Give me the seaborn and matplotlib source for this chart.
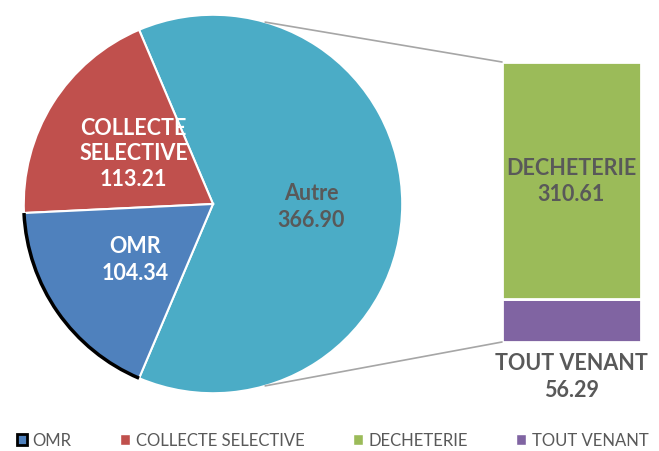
import numpy as np
import matplotlib
matplotlib.use("Agg")
import matplotlib.pyplot as plt
from matplotlib.patches import Arc, ConnectionPatch, Patch
import seaborn as sns

# données
pie_labels = ["Autre", "COLLECTE SELECTIVE", "OMR"]
pie_values = [366.90, 113.21, 104.34]
bar_labels = ["TOUT VENANT", "DECHETERIE"]
bar_values = [56.29, 310.61]

legend_labels = ["OMR", "COLLECTE SELECTIVE", "DECHETERIE", "TOUT VENANT"]

c_omr = "#4F81BD"
c_coll = "#C0504D"
c_autre = "#4BACC6"
c_dech = "#9BBB59"
c_tv = "#8064A2"
grey = "#595959"

sns.set_style("white")
plt.rcParams["font.family"] = ["Lato", "DejaVu Sans"]

fig = plt.figure(figsize=(6.59, 4.52), dpi=100)

# 1. camembert
R = 1.02
ax_pie = fig.add_axes([20 / 659, 54 / 452, 386 / 659, 386 / 452])
autre_deg = 360 * pie_values[0] / sum(pie_values)
start = -autre_deg / 2
wedges, _ = ax_pie.pie(pie_values, colors=[c_autre, c_coll, c_omr], startangle=start,
                       counterclock=True, radius=1,
                       wedgeprops=dict(edgecolor="white", linewidth=1.5))
ax_pie.set_xlim(-R, R)
ax_pie.set_ylim(-R, R)
ax_pie.set_aspect("equal")
ax_pie.axis("off")

# bord noir sur OMR (part sélectionnée)
omr = wedges[2]
ax_pie.add_patch(Arc((0, 0), 2, 2, theta1=omr.theta1, theta2=omr.theta2,
                     color="black", lw=2.5, zorder=5))

ax_pie.text(0.52, -0.01, f"{pie_labels[0]}\n{pie_values[0]:.2f}", ha="center", va="center",
            color=grey, fontsize=15.5, fontweight="bold", linespacing=1.35)
ax_pie.text(-0.42, 0.27, f"COLLECTE\nSELECTIVE\n{pie_values[1]:.2f}", ha="center", va="center",
            color="white", fontsize=15.5, fontweight="bold", linespacing=1.25, zorder=6)
ax_pie.text(-0.41, -0.29, f"{pie_labels[2]}\n{pie_values[2]:.2f}", ha="center", va="center",
            color="white", fontsize=15.5, fontweight="bold", linespacing=1.35)

# 2. barre empilée
ax_bar = fig.add_axes([502 / 659, 109 / 452, 139 / 659, 280 / 452])
ax_bar.bar(0, bar_values[0], width=1, color=c_tv, edgecolor="white", linewidth=2)
ax_bar.bar(0, bar_values[1], width=1, bottom=bar_values[0], color=c_dech,
           edgecolor="white", linewidth=2)
total = sum(bar_values)
ax_bar.set_xlim(-0.5, 0.5)
ax_bar.set_ylim(0, total)
ax_bar.axis("off")

ax_bar.text(0, bar_values[0] + bar_values[1] / 2, f"{bar_labels[1]}\n{bar_values[1]:.2f}",
            ha="center", va="center", color=grey, fontsize=15.5, fontweight="bold", linespacing=1.35)
ax_bar.annotate(f"{bar_labels[0]}\n{bar_values[0]:.2f}", xy=(0, 0), xytext=(0, -7),
                textcoords="offset points", ha="center", va="top", color=grey,
                fontsize=15.5, fontweight="bold", linespacing=1.35, annotation_clip=False)

# 3. lignes de liaison
ang = np.deg2rad(74)
for sgn, yb in [(1, total), (-1, 0)]:
    con = ConnectionPatch(xyA=(np.cos(ang), sgn * np.sin(ang)), coordsA=ax_pie.transData,
                          xyB=(-0.5, yb), coordsB=ax_bar.transData,
                          color="#A6A6A6", lw=1.2)
    fig.add_artist(con)

# 4. légende
handles = [Patch(facecolor=c_omr, edgecolor="black", linewidth=2),
           Patch(facecolor=c_coll), Patch(facecolor=c_dech), Patch(facecolor=c_tv)]
leg = fig.legend(handles, legend_labels, loc="lower center", bbox_to_anchor=(0.505, -0.027),
                 ncol=4, frameon=False, fontsize=12, handlelength=0.6, handleheight=0.6,
                 handletextpad=0.35, columnspacing=2.9)
for t in leg.get_texts():
    t.set_color(grey)

fig.savefig("out.png", dpi=100)
